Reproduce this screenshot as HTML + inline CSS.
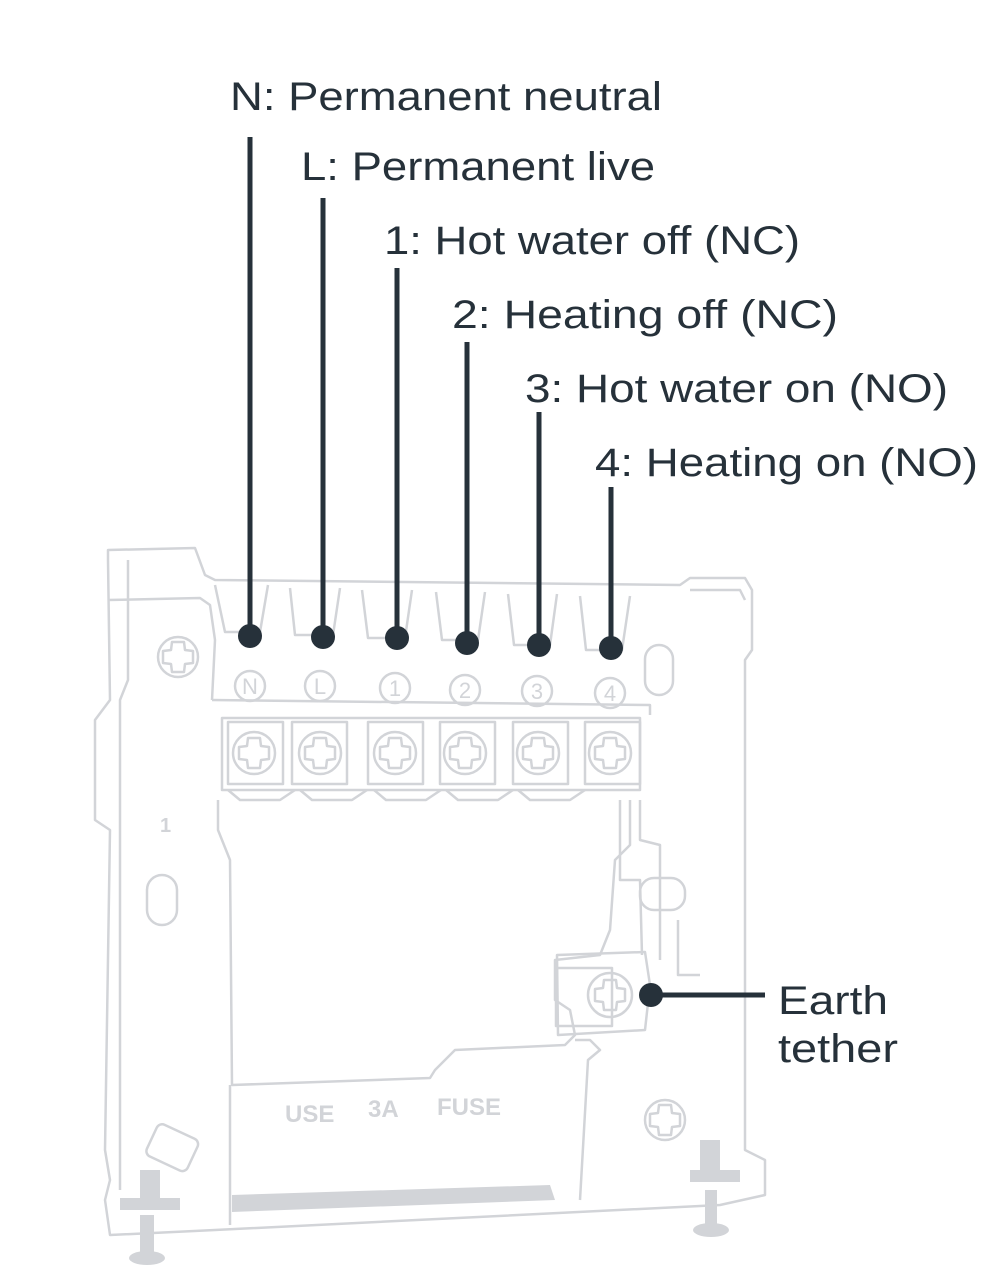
<!DOCTYPE html>
<html><head><style>
html,body{margin:0;padding:0;background:#fff;}
svg{display:block;}
</style></head><body>
<svg width="983" height="1286" viewBox="0 0 983 1286" xmlns="http://www.w3.org/2000/svg">
<defs>
<path id="cross" d="M-6 -15 L6 -15 L7 -7 L15 -6 L15 6 L7 7 L6 15 L-6 15 L-7 7 L-15 6 L-15 -6 L-7 -7 Z"/>
</defs>
<g fill="none" stroke="#d2d4d8" stroke-width="2.5" stroke-linejoin="round">
<path d="M108 560 L108 550 L195 548 L205 575 L215 580 L680 585 L690 578 L745 578 L752 590 L752 650 L745 660 L745 1150 L765 1160 L765 1195 L720 1205 L215 1230 L110 1235 L105 1200 L110 1180 L105 1150 L110 830 L95 820 L95 720 L110 700 Z"/>
<path d="M108 600 L200 598 L210 605 L215 640 L212 700"/>
<path d="M128 560 L128 680 L120 700 L120 1190"/>
<path d="M690 590 L740 590 L745 600"/>
<path d="M215 585 L225 632 L260 632 L268 585 M290 588 L295 635 L333 635 L340 588 M362 590 L368 638 L405 638 L412 590 M436 592 L442 640 L478 640 L485 592 M508 594 L514 645 L550 645 L557 594 M580 596 L586 650 L622 650 L630 596"/>
<path d="M212 700 L650 705 L650 715"/>
<rect x="222" y="718" width="418" height="72"/>
<rect x="228" y="722" width="55" height="62"/><rect x="292" y="722" width="55" height="62"/><rect x="368" y="722" width="55" height="62"/><rect x="440" y="722" width="55" height="62"/><rect x="513" y="722" width="55" height="62"/><rect x="585" y="722" width="55" height="62"/>
<path d="M228 790 L240 800 L280 800 L295 790 M300 790 L312 800 L352 800 L367 790 M374 790 L386 800 L426 800 L441 790 M446 790 L458 800 L498 800 L513 790 M518 790 L530 800 L570 800 L585 790"/>
<circle cx="254" cy="753" r="21"/><circle cx="320" cy="753" r="21"/><circle cx="395" cy="753" r="21"/><circle cx="465" cy="753" r="21"/><circle cx="538" cy="753" r="21"/><circle cx="610" cy="753" r="21"/>
<use href="#cross" x="254" y="753"/><use href="#cross" x="320" y="753"/><use href="#cross" x="395" y="753"/><use href="#cross" x="465" y="753"/><use href="#cross" x="538" y="753"/><use href="#cross" x="610" y="753"/>
<circle cx="250" cy="686" r="15"/><circle cx="320" cy="686" r="15"/><circle cx="395" cy="688" r="15"/><circle cx="465" cy="690" r="15"/><circle cx="537" cy="691" r="15"/><circle cx="610" cy="693" r="15"/>
<path d="M218 800 L218 830 L230 860 L232 1085 L430 1078 L435 1070 L455 1050 L565 1045 L575 1035 L570 1010 L555 1000 L555 960 L600 955 L610 930 L615 860 L630 845 L630 800"/>
<path d="M230 1085 L230 1225 M575 1040 L590 1040 L600 1050 L588 1060 L580 1200"/>
<path d="M620 800 L620 880 L640 880 L642 955"/>
<path d="M640 800 L640 840 L660 845 L660 960"/>
<rect x="556" y="968" width="56" height="58"/>
<circle cx="610" cy="995" r="22"/>
<use href="#cross" x="610" y="995"/>
<path d="M557 955 L645 952 L650 985 L645 1030 L558 1035 Z"/>
<path d="M678 920 L678 975 L700 975"/>
<circle cx="178" cy="657" r="20"/><use href="#cross" x="178" y="657"/>
<circle cx="665" cy="1120" r="20"/><use href="#cross" x="665" y="1120"/>
<rect x="147" y="875" width="30" height="50" rx="15"/>
<rect x="645" y="645" width="28" height="50" rx="14"/>
<rect x="640" y="878" width="45" height="32" rx="14"/>
<rect x="150" y="1130" width="45" height="35" rx="6" transform="rotate(25 172 1147)"/>
</g>
<g fill="#d2d4d8">
<path d="M232 1195 L550 1185 L555 1200 L232 1212 Z"/>
<rect x="140" y="1170" width="20" height="30"/><rect x="120" y="1198" width="60" height="12"/>
<rect x="140" y="1215" width="14" height="40"/><ellipse cx="147" cy="1258" rx="18" ry="7"/>
<rect x="700" y="1140" width="20" height="35"/><rect x="690" y="1170" width="50" height="12"/>
<rect x="705" y="1190" width="12" height="40"/><ellipse cx="711" cy="1230" rx="18" ry="7"/>
</g>
<g fill="#d2d4d8" font-family="Liberation Sans, sans-serif" font-size="24" font-weight="bold">
<text x="285" y="1122">USE</text><text x="368" y="1117">3A</text><text x="437" y="1115">FUSE</text>
<text x="160" y="832" font-size="20">1</text>
</g>
<g fill="#d2d4d8" font-family="Liberation Sans, sans-serif" font-size="22" text-anchor="middle">
<text x="250" y="694">N</text><text x="320" y="694">L</text><text x="395" y="696">1</text><text x="465" y="698">2</text><text x="537" y="699">3</text><text x="610" y="701">4</text>
</g>
<g stroke="#26313a" stroke-width="5" fill="none">
<line x1="250" y1="137" x2="250" y2="636"/>
<line x1="323" y1="198" x2="323" y2="637"/>
<line x1="397" y1="268" x2="397" y2="638"/>
<line x1="467" y1="342" x2="467" y2="643"/>
<line x1="539" y1="412" x2="539" y2="645"/>
<line x1="611" y1="487" x2="611" y2="648"/>
<line x1="651" y1="995" x2="765" y2="995"/>
</g>
<g fill="#26313a">
<circle cx="250" cy="636" r="12"/><circle cx="323" cy="637" r="12"/><circle cx="397" cy="638" r="12"/>
<circle cx="467" cy="643" r="12"/><circle cx="539" cy="645" r="12"/><circle cx="611" cy="648" r="12"/>
<circle cx="651" cy="995" r="12"/>
</g>
<g fill="#26313a" font-family="Liberation Sans, sans-serif" font-size="40">
<text x="230" y="110" textLength="432" lengthAdjust="spacingAndGlyphs">N: Permanent neutral</text>
<text x="301" y="180" textLength="354" lengthAdjust="spacingAndGlyphs">L: Permanent live</text>
<text x="384" y="254" textLength="416" lengthAdjust="spacingAndGlyphs">1: Hot water off (NC)</text>
<text x="452" y="328" textLength="386" lengthAdjust="spacingAndGlyphs">2: Heating off (NC)</text>
<text x="525" y="402" textLength="423" lengthAdjust="spacingAndGlyphs">3: Hot water on (NO)</text>
<text x="595" y="476" textLength="383" lengthAdjust="spacingAndGlyphs">4: Heating on (NO)</text>
<text x="778" y="1014" textLength="110" lengthAdjust="spacingAndGlyphs">Earth</text>
<text x="778" y="1062" textLength="120" lengthAdjust="spacingAndGlyphs">tether</text>
</g>
</svg>
</body></html>
